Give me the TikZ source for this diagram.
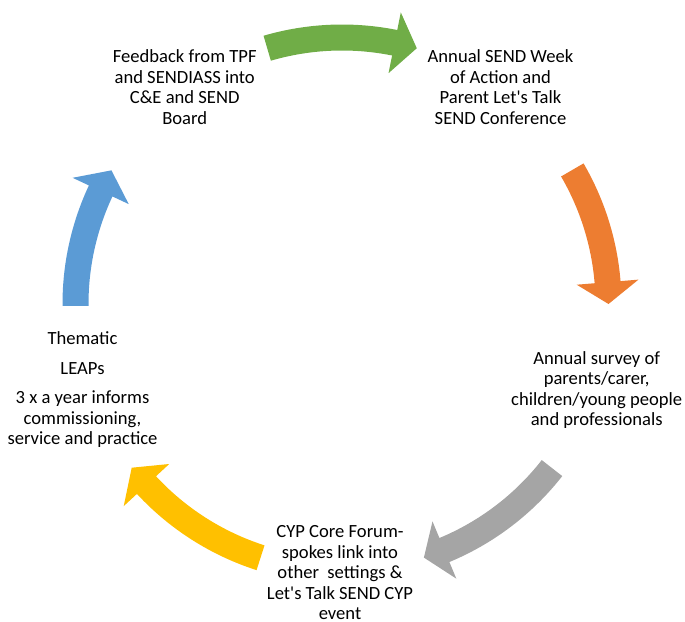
\documentclass[tikz,border=0pt]{standalone}
\usepackage{fontspec}
\setmainfont{Carlito}
\usepackage{tikz}
\definecolor{arrgreen}{HTML}{70AD47}
\definecolor{arrorange}{HTML}{ED7D31}
\definecolor{arrgray}{HTML}{A5A5A5}
\definecolor{arryellow}{HTML}{FFC000}
\definecolor{arrblue}{HTML}{5B9BD5}

\begin{document}
\begin{tikzpicture}[x=1pt,y=1pt,
	txt/.style={align=center,inner sep=0pt,text=black,font=\fontsize{18.6}{20.5}\selectfont}]
	\useasboundingbox (-342,-317) rectangle (343,304);
	% arrows round the circle, centre at the origin
	\fill[arrgreen] (106.3:279.5) arc[start angle=106.3,end angle=78.6,radius=279.5] -- (78.6:297.5) -- (73.7:266.5) -- (78.6:235.5) -- (78.6:253.5) arc[start angle=78.6,end angle=106.3,radius=253.5] -- cycle;
	\fill[arrorange] (30.2:279.5) arc[start angle=30.2,end angle=4.7,radius=279.5] -- (4.7:297.5) -- (0:266.5) -- (4.7:235.5) -- (4.7:253.5) arc[start angle=4.7,end angle=30.2,radius=253.5] -- cycle;
	\fill[arrgray] (-38:279.5) arc[start angle=-38,end angle=-67.4,radius=279.5] -- (-67.4:297.5) -- (-72.1:266.5) -- (-67.4:235.5) -- (-67.4:253.5) arc[start angle=-67.4,end angle=-38,radius=253.5] -- cycle;
	\fill[arryellow] (-107.8:279.5) arc[start angle=-107.8,end angle=-137.2,radius=279.5] -- (-137.2:297.5) -- (-142.1:266.5) -- (-137.2:235.5) -- (-137.2:253.5) arc[start angle=-137.2,end angle=-107.8,radius=253.5] -- cycle;
	\fill[arrblue] (180.4:279.5) arc[start angle=180.4,end angle=154.9,radius=279.5] -- (154.9:297.5) -- (149.9:266.5) -- (154.9:235.5) -- (154.9:253.5) arc[start angle=154.9,end angle=180.4,radius=253.5] -- cycle;
	% texts
	\node[txt] (feedback) at (-157.3,217) {Feedback from TPF\\and SENDIASS into\\C\&E and SEND\\Board};
	\node[txt] (week) at (158.5,217) {Annual SEND Week\\of Action and\\Parent Let\textquotesingle s Talk\\SEND Conference};
	\node[txt] (survey) at (254.7,-86) {Annual survey of\\parents/carer,\\children/young people\\and professionals};
	\node[txt] (forum) at (-2,-268.6) {CYP Core Forum-\\spokes link into\\other\ \ settings \&\\Let\textquotesingle s Talk SEND CYP\\event};
	\node[txt] (leaps) at (-259.5,-86) {Thematic\\[9pt]LEAPs\\[9pt]3 x a year informs\\commissioning,\\service and practice};
\end{tikzpicture}
\end{document}
